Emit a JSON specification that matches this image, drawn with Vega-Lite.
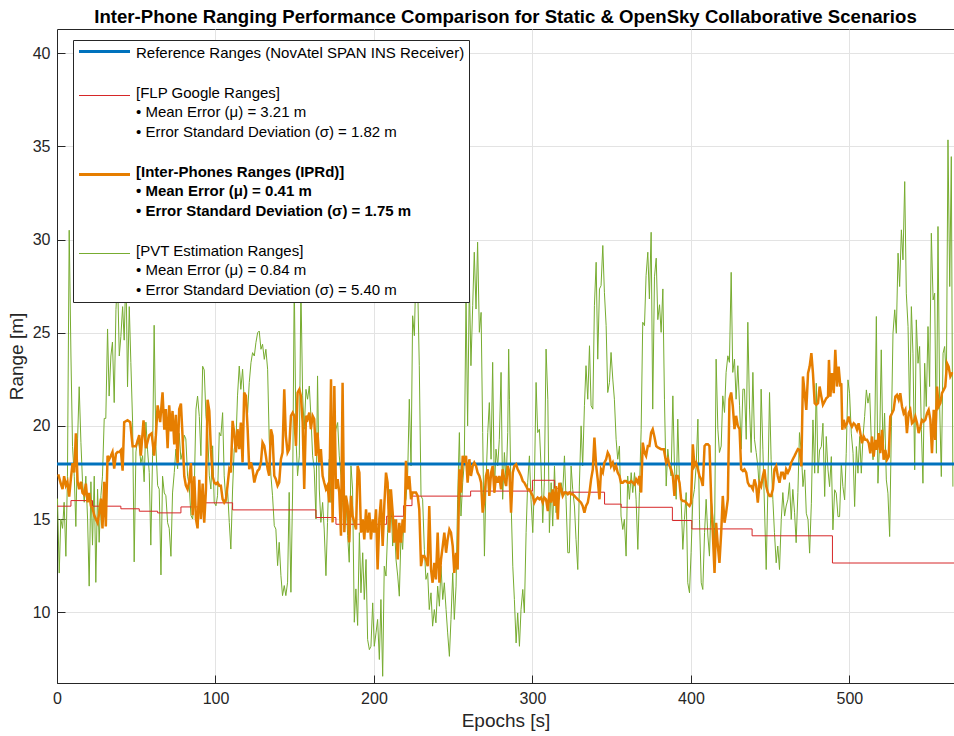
{
"$schema": "https://vega.github.io/schema/vega-lite/v6.json",
"width": 897, "height": 654,
"autosize": {"type": "none"},
"padding": {"left": 57, "top": 29, "right": 0, "bottom": 53},
"background": "white",
"config": {
  "font": "Liberation Sans",
  "view": {"stroke": "#262626", "strokeWidth": 1},
  "axis": {"domainColor": "#262626", "domainWidth": 1, "tickColor": "#262626", "tickSize": -8, "labelPadding": 15, "gridColor": "#e3e3e3", "gridWidth": 1, "labelFont": "Liberation Sans", "labelFontSize": 16, "labelColor": "#262626", "titleFont": "Liberation Sans", "titleFontSize": 19, "titleFontWeight": "normal", "titleColor": "#262626"}
},
"title": {"text": "Inter-Phone Ranging Performance Comparison for Static & OpenSky Collaborative Scenarios", "font": "Liberation Sans", "fontSize": 18.6, "fontWeight": "bold", "color": "black", "anchor": "middle", "offset": 2},
"datasets": {
"ref": [{"e": 0, "v": 17.95}, {"e": 566, "v": 17.95}],
"flp": [{"e":0,"v":15.69},{"e":8.8,"v":15.99},{"e":22.4,"v":15.69},{"e":40.3,"v":15.55},{"e":51.9,"v":15.42},{"e":63.5,"v":15.33},{"e":78.2,"v":15.65},{"e":92.3,"v":15.87},{"e":110.8,"v":15.49},{"e":163.4,"v":15.08},{"e":176,"v":14.72},{"e":208,"v":15.15},{"e":218.7,"v":15.72},{"e":224,"v":16.23},{"e":261,"v":16.5},{"e":300,"v":17.08},{"e":314,"v":16.65},{"e":318.5,"v":16.44},{"e":345.5,"v":15.8},{"e":356,"v":15.63},{"e":388.3,"v":14.92},{"e":400.6,"v":14.47},{"e":438.6,"v":14.1},{"e":489.3,"v":12.64},{"e":566,"v":12.64}],
"ipr": [{"e":0.8,"v":17.4},{"e":2.4,"v":16.9},{"e":3.5,"v":16.6},{"e":4.5,"v":17.3},{"e":5.6,"v":16.8},{"e":6.6,"v":17.0},{"e":7.7,"v":16.2},{"e":8.8,"v":17.2},{"e":9.8,"v":18.0},{"e":10.9,"v":17.5},{"e":11.9,"v":19.6},{"e":13.0,"v":17.0},{"e":14.0,"v":16.6},{"e":15.1,"v":17.0},{"e":16.1,"v":16.4},{"e":17.2,"v":16.3},{"e":18.2,"v":16.9},{"e":19.3,"v":15.9},{"e":20.3,"v":16.4},{"e":21.4,"v":15.7},{"e":22.4,"v":15.6},{"e":23.5,"v":15.2},{"e":24.5,"v":15.0},{"e":25.6,"v":14.8},{"e":26.6,"v":15.3},{"e":27.7,"v":16.1},{"e":28.7,"v":14.5},{"e":29.8,"v":17.0},{"e":30.8,"v":14.6},{"e":31.9,"v":18.4},{"e":32.9,"v":18.2},{"e":34.0,"v":18.4},{"e":35.0,"v":18.6},{"e":36.1,"v":17.7},{"e":37.2,"v":18.5},{"e":38.2,"v":18.6},{"e":39.3,"v":18.6},{"e":40.3,"v":18.7},{"e":41.4,"v":17.6},{"e":42.4,"v":20.2},{"e":44.5,"v":20.3},{"e":46.2,"v":20.2},{"e":47.7,"v":18.9},{"e":49.8,"v":18.9},{"e":51.9,"v":19.5},{"e":52.9,"v":18.4},{"e":54.6,"v":20.3},{"e":56.1,"v":18.8},{"e":58.2,"v":19.5},{"e":59.7,"v":19.6},{"e":61.3,"v":18.4},{"e":62.4,"v":19.5},{"e":63.5,"v":21.1},{"e":65.1,"v":20.2},{"e":66.6,"v":21.8},{"e":67.7,"v":19.8},{"e":68.7,"v":20.9},{"e":69.8,"v":18.8},{"e":70.8,"v":21.1},{"e":71.9,"v":19.7},{"e":72.9,"v":20.8},{"e":74.0,"v":19.0},{"e":75.0,"v":20.6},{"e":76.1,"v":18.0},{"e":77.1,"v":20.9},{"e":78.2,"v":21.2},{"e":79.2,"v":19.5},{"e":80.3,"v":17.3},{"e":81.3,"v":16.8},{"e":82.4,"v":16.6},{"e":83.4,"v":17.0},{"e":84.5,"v":18.0},{"e":85.6,"v":15.2},{"e":86.6,"v":17.3},{"e":87.7,"v":15.0},{"e":88.7,"v":14.5},{"e":89.8,"v":17.1},{"e":90.8,"v":15.0},{"e":91.9,"v":16.9},{"e":92.9,"v":14.8},{"e":94.0,"v":16.6},{"e":95.0,"v":21.4},{"e":96.1,"v":20.8},{"e":97.1,"v":18.75},{"e":98.2,"v":17.3},{"e":99.2,"v":16.96},{"e":100.3,"v":16.88},{"e":101.3,"v":16.96},{"e":102.4,"v":16.79},{"e":103.4,"v":16.79},{"e":104.5,"v":16.07},{"e":105.5,"v":15.89},{"e":106.6,"v":16.07},{"e":107.6,"v":16.79},{"e":108.7,"v":17.68},{"e":109.7,"v":17.5},{"e":110.8,"v":20.27},{"e":111.8,"v":19.64},{"e":112.9,"v":18.57},{"e":113.9,"v":19.82},{"e":115.0,"v":18.75},{"e":116.0,"v":20.18},{"e":117.1,"v":18.04},{"e":118.1,"v":21.79},{"e":119.2,"v":21.61},{"e":120.3,"v":19.82},{"e":121.3,"v":17.68},{"e":122.4,"v":18.04},{"e":123.4,"v":17.68},{"e":124.5,"v":16.96},{"e":125.5,"v":17.32},{"e":126.6,"v":17.59},{"e":127.6,"v":17.68},{"e":128.7,"v":18.04},{"e":129.7,"v":19.11},{"e":130.8,"v":18.93},{"e":131.8,"v":18.39},{"e":132.9,"v":17.68},{"e":133.9,"v":17.32},{"e":135.0,"v":19.82},{"e":136.0,"v":19.46},{"e":137.1,"v":17.32},{"e":138.1,"v":17.14},{"e":139.2,"v":16.79},{"e":140.2,"v":16.96},{"e":141.3,"v":18.21},{"e":142.3,"v":18.57},{"e":143.4,"v":21.96},{"e":144.4,"v":19.46},{"e":145.5,"v":18.57},{"e":146.5,"v":18.75},{"e":147.6,"v":20.54},{"e":148.7,"v":20.71},{"e":149.7,"v":20.54},{"e":150.8,"v":18.93},{"e":151.8,"v":21.79},{"e":152.9,"v":21.96},{"e":153.9,"v":21.61},{"e":155.0,"v":20.18},{"e":156.0,"v":16.61},{"e":157.1,"v":20.54},{"e":158.1,"v":20.36},{"e":159.2,"v":20.71},{"e":160.2,"v":19.82},{"e":161.3,"v":20.54},{"e":162.3,"v":20.36},{"e":163.4,"v":18.39},{"e":164.4,"v":19.64},{"e":165.5,"v":18.04},{"e":166.5,"v":18.75},{"e":167.6,"v":17.32},{"e":168.6,"v":16.96},{"e":169.7,"v":16.61},{"e":170.7,"v":16.79},{"e":171.8,"v":15.89},{"e":172.9,"v":22.5},{"e":173.9,"v":14.82},{"e":175.0,"v":22.14},{"e":176.0,"v":16.61},{"e":177.1,"v":17.14},{"e":178.1,"v":16.43},{"e":179.2,"v":14.11},{"e":180.2,"v":22.32},{"e":181.3,"v":14.29},{"e":182.3,"v":16.25},{"e":183.4,"v":15.71},{"e":184.4,"v":13.75},{"e":185.5,"v":16.25},{"e":186.5,"v":15.18},{"e":187.6,"v":14.82},{"e":188.7,"v":14.44},{"e":189.7,"v":17.85},{"e":190.8,"v":17.49},{"e":191.8,"v":14.27},{"e":192.9,"v":14.98},{"e":193.9,"v":13.91},{"e":195.0,"v":15.52},{"e":196.0,"v":14.27},{"e":197.1,"v":15.34},{"e":198.1,"v":13.91},{"e":199.2,"v":14.98},{"e":200.2,"v":14.27},{"e":201.3,"v":15.52},{"e":202.3,"v":12.29},{"e":203.4,"v":14.98},{"e":204.4,"v":16.06},{"e":205.5,"v":13.55},{"e":206.5,"v":15.7},{"e":207.6,"v":17.49},{"e":208.6,"v":16.95},{"e":209.7,"v":14.27},{"e":210.7,"v":16.59},{"e":211.8,"v":15.34},{"e":212.8,"v":13.73},{"e":213.9,"v":14.98},{"e":215.0,"v":12.83},{"e":216.0,"v":14.8},{"e":217.1,"v":13.73},{"e":218.1,"v":14.98},{"e":219.2,"v":14.27},{"e":220.2,"v":18.12},{"e":221.3,"v":16.59},{"e":222.3,"v":17.31},{"e":223.4,"v":16.06},{"e":224.4,"v":16.42},{"e":225.5,"v":16.42},{"e":226.5,"v":16.42},{"e":227.6,"v":16.24},{"e":228.6,"v":15.52},{"e":229.7,"v":12.47},{"e":230.7,"v":13.01},{"e":231.8,"v":13.01},{"e":232.8,"v":12.83},{"e":233.9,"v":12.47},{"e":234.9,"v":15.7},{"e":236.0,"v":12.29},{"e":237.0,"v":11.58},{"e":238.1,"v":12.65},{"e":239.1,"v":11.76},{"e":240.2,"v":14.27},{"e":241.3,"v":11.58},{"e":242.3,"v":12.83},{"e":243.4,"v":13.55},{"e":244.4,"v":14.27},{"e":245.5,"v":13.19},{"e":246.5,"v":13.91},{"e":247.6,"v":14.44},{"e":248.6,"v":14.27},{"e":249.7,"v":13.55},{"e":250.7,"v":12.11},{"e":251.8,"v":13.19},{"e":252.8,"v":12.29},{"e":253.9,"v":17.67},{"e":254.9,"v":16.42},{"e":256.0,"v":18.39},{"e":257.0,"v":18.03},{"e":258.1,"v":18.39},{"e":259.1,"v":16.95},{"e":260.2,"v":18.21},{"e":261.2,"v":17.31},{"e":262.3,"v":17.85},{"e":263.3,"v":18.03},{"e":264.4,"v":17.85},{"e":265.4,"v":17.49},{"e":266.5,"v":17.31},{"e":267.6,"v":16.95},{"e":268.6,"v":15.34},{"e":269.7,"v":16.06},{"e":270.7,"v":17.31},{"e":271.8,"v":17.67},{"e":272.8,"v":16.24},{"e":273.9,"v":17.49},{"e":274.9,"v":17.85},{"e":276.0,"v":16.42},{"e":277.0,"v":17.31},{"e":278.1,"v":16.95},{"e":279.1,"v":17.31},{"e":280.2,"v":16.59},{"e":281.2,"v":17.67},{"e":282.3,"v":17.13},{"e":283.4,"v":16.77},{"e":284.4,"v":17.85},{"e":285.5,"v":17.49},{"e":286.5,"v":15.34},{"e":287.6,"v":17.49},{"e":288.6,"v":17.85},{"e":289.7,"v":17.94},{"e":290.7,"v":17.67},{"e":291.8,"v":17.49},{"e":292.8,"v":17.31},{"e":293.9,"v":17.04},{"e":294.9,"v":16.95},{"e":296.0,"v":16.77},{"e":297.0,"v":16.59},{"e":298.1,"v":16.59},{"e":299.1,"v":16.42},{"e":300.2,"v":16.24},{"e":301.2,"v":15.88},{"e":302.3,"v":16.06},{"e":303.3,"v":16.15},{"e":304.4,"v":16.06},{"e":305.4,"v":16.15},{"e":306.5,"v":15.88},{"e":307.5,"v":16.15},{"e":308.6,"v":16.06},{"e":309.7,"v":15.43},{"e":310.7,"v":16.42},{"e":311.8,"v":15.88},{"e":312.8,"v":16.59},{"e":313.9,"v":15.7},{"e":314.9,"v":16.77},{"e":316.0,"v":14.98},{"e":317.0,"v":16.95},{"e":318.1,"v":16.59},{"e":319.1,"v":16.24},{"e":320.2,"v":16.42},{"e":321.2,"v":16.42},{"e":322.3,"v":16.33},{"e":323.3,"v":16.42},{"e":324.4,"v":16.33},{"e":325.4,"v":16.33},{"e":326.5,"v":16.24},{"e":327.5,"v":16.15},{"e":328.6,"v":16.06},{"e":329.6,"v":15.97},{"e":330.7,"v":15.88},{"e":331.7,"v":15.7},{"e":332.8,"v":15.34},{"e":333.8,"v":15.7},{"e":334.9,"v":15.88},{"e":336.0,"v":16.42},{"e":337.0,"v":17.13},{"e":338.1,"v":17.67},{"e":339.1,"v":19.37},{"e":340.2,"v":17.85},{"e":341.2,"v":17.13},{"e":342.3,"v":16.06},{"e":343.3,"v":17.67},{"e":344.4,"v":17.49},{"e":345.4,"v":18.03},{"e":346.5,"v":18.21},{"e":347.5,"v":18.57},{"e":348.6,"v":18.39},{"e":349.6,"v":17.85},{"e":350.7,"v":18.03},{"e":351.7,"v":17.67},{"e":352.8,"v":17.85},{"e":353.8,"v":17.49},{"e":354.9,"v":17.31},{"e":355.9,"v":16.95},{"e":357.0,"v":16.95},{"e":358.0,"v":17.04},{"e":359.1,"v":17.04},{"e":360.1,"v":16.95},{"e":361.2,"v":16.95},{"e":362.3,"v":17.04},{"e":363.3,"v":16.95},{"e":364.4,"v":16.86},{"e":365.4,"v":17.13},{"e":366.5,"v":16.95},{"e":367.5,"v":17.31},{"e":368.6,"v":16.42},{"e":369.6,"v":19.1},{"e":370.7,"v":18.57},{"e":371.7,"v":18.39},{"e":372.8,"v":18.92},{"e":373.8,"v":18.92},{"e":374.9,"v":19.64},{"e":375.9,"v":19.82},{"e":377.0,"v":19.4},{"e":378.1,"v":18.92},{"e":379.1,"v":18.84},{"e":381.2,"v":18.75},{"e":382.9,"v":18.75},{"e":384.4,"v":18.03},{"e":385.4,"v":18.21},{"e":386.5,"v":17.85},{"e":387.5,"v":17.67},{"e":388.6,"v":17.31},{"e":389.6,"v":16.24},{"e":390.7,"v":17.31},{"e":391.7,"v":17.31},{"e":392.8,"v":16.95},{"e":393.8,"v":16.06},{"e":394.9,"v":15.97},{"e":395.9,"v":15.97},{"e":397.0,"v":15.88},{"e":398.0,"v":15.79},{"e":399.1,"v":15.7},{"e":400.1,"v":15.88},{"e":401.2,"v":19.01},{"e":402.2,"v":17.85},{"e":403.3,"v":18.03},{"e":404.4,"v":17.67},{"e":405.4,"v":17.31},{"e":406.5,"v":17.13},{"e":407.5,"v":16.77},{"e":408.6,"v":18.92},{"e":409.6,"v":19.01},{"e":410.7,"v":19.01},{"e":411.7,"v":18.92},{"e":412.8,"v":16.06},{"e":413.8,"v":14.27},{"e":414.9,"v":12.11},{"e":415.9,"v":14.8},{"e":417.0,"v":13.55},{"e":418.0,"v":12.65},{"e":419.1,"v":14.27},{"e":420.1,"v":16.24},{"e":421.2,"v":14.8},{"e":422.2,"v":15.34},{"e":423.3,"v":16.06},{"e":424.3,"v":21.43},{"e":425.4,"v":21.79},{"e":426.4,"v":21.08},{"e":427.5,"v":19.82},{"e":428.5,"v":20.54},{"e":429.6,"v":20.0},{"e":430.7,"v":19.82},{"e":431.7,"v":17.67},{"e":432.8,"v":17.58},{"e":433.8,"v":17.67},{"e":434.9,"v":17.49},{"e":435.9,"v":16.95},{"e":437.0,"v":16.77},{"e":438.0,"v":16.77},{"e":439.1,"v":16.59},{"e":440.1,"v":17.13},{"e":441.2,"v":16.77},{"e":442.2,"v":15.88},{"e":443.3,"v":16.95},{"e":444.3,"v":16.77},{"e":445.4,"v":17.31},{"e":446.4,"v":17.67},{"e":447.5,"v":16.77},{"e":448.5,"v":16.42},{"e":449.6,"v":16.24},{"e":450.6,"v":16.24},{"e":451.7,"v":16.59},{"e":452.7,"v":17.67},{"e":453.8,"v":17.85},{"e":454.8,"v":17.31},{"e":455.9,"v":16.95},{"e":457.0,"v":17.49},{"e":458.0,"v":17.49},{"e":459.1,"v":17.13},{"e":460.1,"v":17.67},{"e":461.2,"v":17.49},{"e":462.2,"v":17.67},{"e":463.3,"v":18.03},{"e":464.3,"v":18.21},{"e":465.4,"v":18.39},{"e":466.4,"v":18.57},{"e":467.5,"v":18.75},{"e":468.6,"v":18.71},{"e":469.7,"v":17.82},{"e":470.7,"v":22.65},{"e":471.8,"v":21.75},{"e":472.8,"v":20.86},{"e":473.9,"v":22.83},{"e":474.9,"v":23.18},{"e":476.0,"v":23.9},{"e":477.0,"v":22.83},{"e":478.1,"v":21.22},{"e":479.1,"v":21.13},{"e":480.2,"v":21.22},{"e":481.2,"v":22.11},{"e":482.3,"v":21.57},{"e":483.3,"v":21.13},{"e":484.4,"v":21.31},{"e":485.4,"v":21.48},{"e":486.5,"v":21.57},{"e":487.1,"v":23.54},{"e":488.0,"v":21.57},{"e":489.0,"v":22.83},{"e":490.1,"v":21.75},{"e":491.1,"v":24.08},{"e":492.2,"v":22.11},{"e":493.2,"v":23.18},{"e":494.3,"v":22.11},{"e":494.9,"v":22.29},{"e":495.5,"v":19.79},{"e":496.4,"v":20.32},{"e":497.4,"v":19.96},{"e":498.5,"v":20.14},{"e":499.5,"v":20.5},{"e":500.6,"v":20.14},{"e":501.6,"v":19.96},{"e":502.7,"v":20.14},{"e":503.7,"v":20.05},{"e":504.8,"v":19.79},{"e":505.8,"v":20.14},{"e":506.9,"v":19.61},{"e":507.9,"v":19.07},{"e":509.0,"v":19.43},{"e":510.0,"v":19.25},{"e":511.1,"v":19.25},{"e":512.2,"v":19.07},{"e":513.2,"v":18.53},{"e":514.3,"v":19.43},{"e":515.3,"v":18.35},{"e":516.4,"v":19.25},{"e":517.4,"v":18.71},{"e":518.5,"v":19.61},{"e":519.5,"v":18.53},{"e":520.6,"v":19.79},{"e":521.6,"v":18.18},{"e":522.7,"v":18.71},{"e":523.7,"v":18.18},{"e":524.8,"v":18.35},{"e":525.8,"v":20.5},{"e":526.9,"v":20.68},{"e":527.9,"v":20.86},{"e":529.0,"v":21.57},{"e":530.0,"v":21.66},{"e":531.1,"v":21.4},{"e":532.1,"v":21.75},{"e":533.2,"v":21.04},{"e":534.2,"v":20.68},{"e":535.3,"v":20.86},{"e":536.3,"v":19.61},{"e":537.4,"v":20.68},{"e":538.4,"v":20.86},{"e":539.5,"v":20.14},{"e":540.6,"v":20.23},{"e":541.6,"v":20.5},{"e":542.7,"v":20.14},{"e":543.7,"v":19.61},{"e":544.8,"v":19.96},{"e":545.8,"v":20.32},{"e":546.9,"v":20.23},{"e":547.9,"v":20.32},{"e":549.0,"v":20.68},{"e":550.0,"v":20.86},{"e":551.1,"v":20.32},{"e":552.1,"v":18.53},{"e":553.2,"v":20.86},{"e":554.2,"v":19.25},{"e":555.3,"v":22.11},{"e":556.3,"v":21.04},{"e":557.4,"v":21.22},{"e":558.4,"v":21.75},{"e":559.5,"v":21.93},{"e":560.5,"v":22.11},{"e":561.6,"v":23.36},{"e":562.6,"v":23.18},{"e":563.7,"v":22.65},{"e":564.8,"v":22.83},{"e":565.4,"v":22.83}],
"pvt": [{"e":0.3,"v":16.1},{"e":1.4,"v":12.1},{"e":2.4,"v":15.0},{"e":3.5,"v":14.5},{"e":4.5,"v":15.9},{"e":5.6,"v":13.0},{"e":6.6,"v":17.3},{"e":7.7,"v":30.5},{"e":8.8,"v":23.75},{"e":9.8,"v":18.9},{"e":10.9,"v":17.3},{"e":11.9,"v":14.6},{"e":13.0,"v":19.3},{"e":14.0,"v":22.1},{"e":15.1,"v":19.1},{"e":16.1,"v":17.0},{"e":17.2,"v":15.9},{"e":18.2,"v":17.3},{"e":19.3,"v":15.0},{"e":20.3,"v":11.4},{"e":21.4,"v":17.0},{"e":22.4,"v":13.6},{"e":23.5,"v":17.3},{"e":24.5,"v":11.6},{"e":25.6,"v":16.6},{"e":26.6,"v":13.75},{"e":27.7,"v":16.25},{"e":28.7,"v":17.3},{"e":29.8,"v":20.4},{"e":30.8,"v":20.4},{"e":31.9,"v":25.2},{"e":32.9,"v":21.6},{"e":34.0,"v":23.75},{"e":35.0,"v":24.5},{"e":36.1,"v":21.25},{"e":37.2,"v":26.25},{"e":38.2,"v":28.0},{"e":39.3,"v":23.75},{"e":40.3,"v":24.8},{"e":41.4,"v":26.4},{"e":42.4,"v":24.6},{"e":43.5,"v":28.5},{"e":44.5,"v":22.1},{"e":45.6,"v":26.4},{"e":46.6,"v":23.4},{"e":47.7,"v":20.2},{"e":48.7,"v":12.7},{"e":49.8,"v":18.6},{"e":50.8,"v":19.3},{"e":51.9,"v":18.9},{"e":52.9,"v":18.0},{"e":54.0,"v":18.4},{"e":55.0,"v":17.0},{"e":56.1,"v":20.2},{"e":57.1,"v":18.75},{"e":58.2,"v":17.5},{"e":59.2,"v":13.6},{"e":60.3,"v":18.4},{"e":61.3,"v":25.4},{"e":62.4,"v":18.9},{"e":63.5,"v":16.8},{"e":64.5,"v":16.6},{"e":65.6,"v":12.0},{"e":66.6,"v":17.3},{"e":67.7,"v":16.4},{"e":68.7,"v":16.25},{"e":69.8,"v":14.8},{"e":70.8,"v":14.5},{"e":71.9,"v":13.0},{"e":72.9,"v":16.4},{"e":74.0,"v":17.5},{"e":75.0,"v":18.75},{"e":76.1,"v":17.7},{"e":77.1,"v":19.6},{"e":78.2,"v":18.2},{"e":79.2,"v":18.6},{"e":80.3,"v":19.5},{"e":81.3,"v":19.3},{"e":82.4,"v":17.3},{"e":83.4,"v":16.8},{"e":84.5,"v":15.2},{"e":85.6,"v":15.0},{"e":86.6,"v":16.6},{"e":87.7,"v":20.9},{"e":88.7,"v":21.6},{"e":89.8,"v":20.5},{"e":90.8,"v":18.4},{"e":91.9,"v":23.2},{"e":92.9,"v":23.0},{"e":94.0,"v":20.5},{"e":95.0,"v":19.8},{"e":96.1,"v":17.32},{"e":97.1,"v":16.61},{"e":98.2,"v":18.93},{"e":99.2,"v":15.89},{"e":100.3,"v":15.71},{"e":101.3,"v":16.25},{"e":102.4,"v":19.64},{"e":103.4,"v":19.46},{"e":104.5,"v":20.71},{"e":105.5,"v":17.32},{"e":106.6,"v":15.89},{"e":107.6,"v":16.61},{"e":108.7,"v":14.82},{"e":109.7,"v":13.39},{"e":110.8,"v":16.61},{"e":111.8,"v":18.75},{"e":112.9,"v":19.11},{"e":113.9,"v":21.61},{"e":115.0,"v":23.21},{"e":116.0,"v":21.96},{"e":117.1,"v":23.04},{"e":118.1,"v":21.43},{"e":119.2,"v":21.61},{"e":120.3,"v":20.71},{"e":121.3,"v":22.32},{"e":122.4,"v":23.39},{"e":123.4,"v":23.93},{"e":124.5,"v":23.75},{"e":125.5,"v":24.46},{"e":126.6,"v":25.0},{"e":127.6,"v":25.09},{"e":128.7,"v":24.11},{"e":129.7,"v":24.38},{"e":130.8,"v":23.57},{"e":131.8,"v":24.11},{"e":132.9,"v":23.04},{"e":133.9,"v":19.29},{"e":135.0,"v":17.32},{"e":136.0,"v":16.25},{"e":137.1,"v":14.64},{"e":138.1,"v":14.46},{"e":139.2,"v":12.5},{"e":140.2,"v":13.75},{"e":141.3,"v":11.96},{"e":142.3,"v":10.89},{"e":143.4,"v":11.43},{"e":144.4,"v":10.89},{"e":145.5,"v":11.61},{"e":146.5,"v":16.43},{"e":147.6,"v":11.07},{"e":148.7,"v":16.61},{"e":149.7,"v":27.8},{"e":150.8,"v":19.29},{"e":151.8,"v":17.32},{"e":152.9,"v":18.39},{"e":153.9,"v":27.5},{"e":155.0,"v":21.61},{"e":156.0,"v":19.82},{"e":157.1,"v":21.96},{"e":158.1,"v":21.43},{"e":159.2,"v":22.14},{"e":160.2,"v":20.54},{"e":161.3,"v":18.39},{"e":162.3,"v":17.68},{"e":163.4,"v":15.0},{"e":164.4,"v":22.68},{"e":165.5,"v":16.61},{"e":166.5,"v":14.82},{"e":167.6,"v":15.89},{"e":168.6,"v":14.46},{"e":169.7,"v":11.96},{"e":170.7,"v":14.82},{"e":171.8,"v":18.21},{"e":172.9,"v":15.89},{"e":173.9,"v":17.32},{"e":175.0,"v":19.11},{"e":176.0,"v":19.82},{"e":177.1,"v":20.18},{"e":178.1,"v":18.39},{"e":179.2,"v":17.32},{"e":180.2,"v":15.89},{"e":181.3,"v":14.82},{"e":182.3,"v":16.25},{"e":183.4,"v":14.11},{"e":184.4,"v":12.68},{"e":185.5,"v":17.86},{"e":186.5,"v":16.61},{"e":187.6,"v":9.46},{"e":188.6,"v":11.25},{"e":189.7,"v":9.29},{"e":190.8,"v":14.27},{"e":191.8,"v":11.04},{"e":192.9,"v":13.19},{"e":193.9,"v":10.68},{"e":195.0,"v":12.83},{"e":196.0,"v":8.53},{"e":197.1,"v":7.99},{"e":198.1,"v":8.17},{"e":199.2,"v":10.5},{"e":200.2,"v":8.17},{"e":201.3,"v":8.89},{"e":202.3,"v":9.61},{"e":203.4,"v":7.46},{"e":204.4,"v":10.68},{"e":205.5,"v":6.56},{"e":206.5,"v":12.47},{"e":207.6,"v":11.94},{"e":208.6,"v":14.27},{"e":209.7,"v":16.59},{"e":210.7,"v":16.06},{"e":211.8,"v":13.55},{"e":212.8,"v":14.98},{"e":213.9,"v":12.83},{"e":215.0,"v":11.94},{"e":216.0,"v":10.86},{"e":217.1,"v":14.27},{"e":218.1,"v":13.37},{"e":219.2,"v":15.7},{"e":220.2,"v":16.06},{"e":221.3,"v":17.49},{"e":222.3,"v":21.43},{"e":223.4,"v":17.85},{"e":224.4,"v":25.91},{"e":225.5,"v":24.84},{"e":226.5,"v":28.5},{"e":227.6,"v":27.5},{"e":228.6,"v":23.23},{"e":229.7,"v":16.24},{"e":230.7,"v":16.06},{"e":231.8,"v":13.37},{"e":232.8,"v":11.76},{"e":233.9,"v":12.11},{"e":234.9,"v":10.14},{"e":236.0,"v":11.04},{"e":237.0,"v":9.25},{"e":238.1,"v":10.14},{"e":239.1,"v":9.43},{"e":240.2,"v":11.4},{"e":241.3,"v":10.32},{"e":242.3,"v":12.47},{"e":243.4,"v":10.68},{"e":244.4,"v":11.58},{"e":245.5,"v":10.14},{"e":246.5,"v":8.89},{"e":247.6,"v":7.63},{"e":248.6,"v":9.61},{"e":249.7,"v":12.11},{"e":250.7,"v":9.61},{"e":251.8,"v":11.4},{"e":252.8,"v":16.06},{"e":253.9,"v":19.64},{"e":254.9,"v":15.16},{"e":256.0,"v":16.95},{"e":257.0,"v":18.03},{"e":258.1,"v":26.99},{"e":259.1,"v":20.0},{"e":260.2,"v":27.71},{"e":261.2,"v":23.23},{"e":262.3,"v":26.45},{"e":263.3,"v":29.32},{"e":264.4,"v":26.27},{"e":265.4,"v":29.86},{"e":266.5,"v":25.02},{"e":267.6,"v":26.09},{"e":268.6,"v":19.64},{"e":269.7,"v":13.01},{"e":270.7,"v":16.95},{"e":271.8,"v":19.64},{"e":272.8,"v":21.25},{"e":273.9,"v":18.21},{"e":274.9,"v":23.41},{"e":276.0,"v":16.42},{"e":277.0,"v":18.75},{"e":278.1,"v":17.85},{"e":279.1,"v":19.28},{"e":280.2,"v":22.87},{"e":281.2,"v":16.06},{"e":282.3,"v":18.57},{"e":283.4,"v":16.95},{"e":284.4,"v":19.64},{"e":285.0,"v":24.12},{"e":285.5,"v":21.43},{"e":286.5,"v":16.06},{"e":287.6,"v":12.47},{"e":288.6,"v":10.68},{"e":289.7,"v":8.35},{"e":290.7,"v":9.96},{"e":291.8,"v":8.17},{"e":292.8,"v":10.14},{"e":293.9,"v":11.22},{"e":294.9,"v":9.96},{"e":296.0,"v":14.27},{"e":297.0,"v":16.95},{"e":298.1,"v":18.39},{"e":299.1,"v":16.06},{"e":300.2,"v":14.27},{"e":301.2,"v":16.77},{"e":302.3,"v":22.33},{"e":303.3,"v":19.64},{"e":304.4,"v":19.82},{"e":305.4,"v":17.85},{"e":306.5,"v":14.8},{"e":307.5,"v":16.95},{"e":308.6,"v":24.12},{"e":309.7,"v":21.43},{"e":310.7,"v":14.27},{"e":311.8,"v":16.95},{"e":312.8,"v":14.62},{"e":313.9,"v":17.85},{"e":314.9,"v":15.34},{"e":316.0,"v":16.42},{"e":317.0,"v":16.06},{"e":318.1,"v":16.95},{"e":319.1,"v":16.42},{"e":320.2,"v":18.39},{"e":321.2,"v":16.06},{"e":322.3,"v":13.19},{"e":323.3,"v":13.19},{"e":324.4,"v":17.85},{"e":325.4,"v":16.59},{"e":326.5,"v":15.7},{"e":327.5,"v":13.91},{"e":328.6,"v":12.29},{"e":329.6,"v":16.77},{"e":330.7,"v":20.0},{"e":331.7,"v":17.85},{"e":332.8,"v":21.08},{"e":333.8,"v":23.23},{"e":334.9,"v":21.43},{"e":336.0,"v":24.3},{"e":337.0,"v":21.08},{"e":338.1,"v":20.9},{"e":339.1,"v":26.45},{"e":340.2,"v":28.78},{"e":341.2,"v":23.58},{"e":342.3,"v":27.35},{"e":343.3,"v":27.53},{"e":344.4,"v":29.68},{"e":345.4,"v":27.17},{"e":346.5,"v":25.38},{"e":347.5,"v":21.79},{"e":348.6,"v":22.33},{"e":349.6,"v":23.94},{"e":350.7,"v":22.51},{"e":351.7,"v":21.43},{"e":352.8,"v":19.28},{"e":353.8,"v":18.21},{"e":354.9,"v":18.92},{"e":355.9,"v":15.16},{"e":357.0,"v":14.44},{"e":358.0,"v":14.98},{"e":359.1,"v":13.01},{"e":360.1,"v":17.31},{"e":361.2,"v":16.06},{"e":362.3,"v":17.49},{"e":363.3,"v":16.42},{"e":364.4,"v":17.49},{"e":365.4,"v":16.06},{"e":366.5,"v":13.37},{"e":367.5,"v":16.42},{"e":368.6,"v":19.82},{"e":369.6,"v":25.56},{"e":370.7,"v":25.38},{"e":371.7,"v":28.06},{"e":372.8,"v":29.32},{"e":373.8,"v":26.81},{"e":374.9,"v":30.39},{"e":375.9,"v":20.9},{"e":377.0,"v":28.0},{"e":378.1,"v":29.0},{"e":379.1,"v":25.7},{"e":380.2,"v":26.5},{"e":381.2,"v":25.02},{"e":382.3,"v":27.35},{"e":383.3,"v":21.43},{"e":384.4,"v":16.77},{"e":385.4,"v":18.75},{"e":386.5,"v":17.85},{"e":387.5,"v":17.31},{"e":388.6,"v":21.61},{"e":389.6,"v":17.85},{"e":390.7,"v":16.06},{"e":391.7,"v":20.36},{"e":392.8,"v":16.95},{"e":393.8,"v":16.06},{"e":394.9,"v":13.37},{"e":395.9,"v":14.98},{"e":397.0,"v":16.42},{"e":398.0,"v":11.58},{"e":399.1,"v":11.04},{"e":400.1,"v":13.19},{"e":401.2,"v":16.06},{"e":402.2,"v":16.59},{"e":403.3,"v":17.85},{"e":404.4,"v":20.36},{"e":405.4,"v":14.98},{"e":406.5,"v":11.58},{"e":407.5,"v":11.22},{"e":408.6,"v":14.27},{"e":409.6,"v":16.06},{"e":410.7,"v":14.09},{"e":411.7,"v":13.01},{"e":412.8,"v":16.06},{"e":413.8,"v":15.16},{"e":414.9,"v":13.91},{"e":415.9,"v":23.58},{"e":417.0,"v":19.82},{"e":418.0,"v":18.57},{"e":419.1,"v":18.92},{"e":420.1,"v":21.61},{"e":421.2,"v":20.72},{"e":422.2,"v":22.87},{"e":423.3,"v":23.76},{"e":424.3,"v":23.41},{"e":425.4,"v":28.24},{"e":426.4,"v":22.87},{"e":427.5,"v":23.58},{"e":428.5,"v":21.43},{"e":429.6,"v":23.23},{"e":430.7,"v":21.08},{"e":431.7,"v":18.75},{"e":432.8,"v":21.97},{"e":433.8,"v":21.97},{"e":434.9,"v":19.28},{"e":435.9,"v":25.56},{"e":437.0,"v":20.9},{"e":438.0,"v":18.57},{"e":439.1,"v":22.87},{"e":440.1,"v":19.28},{"e":441.2,"v":18.57},{"e":442.2,"v":17.85},{"e":443.3,"v":16.42},{"e":444.3,"v":21.97},{"e":445.4,"v":18.75},{"e":446.4,"v":15.7},{"e":447.5,"v":12.29},{"e":448.5,"v":16.42},{"e":449.6,"v":21.79},{"e":450.6,"v":18.21},{"e":451.7,"v":16.06},{"e":452.7,"v":14.27},{"e":453.8,"v":12.65},{"e":454.8,"v":13.55},{"e":455.9,"v":12.29},{"e":457.0,"v":14.98},{"e":458.0,"v":16.42},{"e":459.1,"v":15.16},{"e":460.1,"v":15.7},{"e":461.2,"v":16.06},{"e":462.2,"v":16.95},{"e":463.3,"v":14.98},{"e":464.3,"v":16.59},{"e":465.4,"v":15.34},{"e":466.4,"v":13.73},{"e":467.5,"v":16.42},{"e":468.5,"v":19.64},{"e":469.7,"v":18.53},{"e":470.7,"v":16.74},{"e":471.8,"v":17.64},{"e":472.8,"v":15.31},{"e":473.9,"v":14.96},{"e":474.9,"v":13.17},{"e":476.0,"v":15.85},{"e":477.0,"v":20.32},{"e":478.1,"v":17.46},{"e":479.1,"v":22.29},{"e":480.2,"v":17.46},{"e":481.2,"v":18.71},{"e":482.3,"v":18.89},{"e":483.3,"v":20.14},{"e":484.4,"v":16.21},{"e":485.4,"v":19.43},{"e":486.5,"v":17.64},{"e":487.5,"v":16.74},{"e":488.6,"v":18.35},{"e":489.6,"v":14.42},{"e":490.7,"v":16.57},{"e":491.7,"v":16.39},{"e":492.8,"v":15.13},{"e":493.8,"v":15.13},{"e":494.9,"v":18.0},{"e":495.9,"v":16.74},{"e":497.0,"v":16.03},{"e":498.0,"v":18.53},{"e":499.1,"v":22.47},{"e":500.1,"v":21.75},{"e":501.2,"v":19.61},{"e":502.3,"v":18.53},{"e":503.3,"v":15.67},{"e":504.4,"v":18.89},{"e":505.4,"v":17.46},{"e":506.5,"v":19.43},{"e":507.5,"v":17.46},{"e":508.6,"v":19.43},{"e":509.6,"v":20.5},{"e":510.7,"v":21.93},{"e":511.7,"v":21.22},{"e":512.8,"v":21.75},{"e":513.8,"v":19.25},{"e":514.9,"v":18.18},{"e":515.9,"v":19.07},{"e":517.0,"v":25.87},{"e":518.0,"v":16.92},{"e":519.1,"v":19.25},{"e":520.1,"v":24.08},{"e":521.2,"v":18.53},{"e":522.2,"v":20.68},{"e":523.3,"v":17.1},{"e":524.3,"v":16.39},{"e":525.4,"v":14.06},{"e":526.5,"v":19.96},{"e":527.5,"v":24.97},{"e":528.6,"v":26.23},{"e":529.6,"v":24.97},{"e":530.7,"v":29.27},{"e":531.7,"v":27.48},{"e":532.8,"v":30.52},{"e":533.8,"v":28.91},{"e":534.9,"v":33.11},{"e":535.9,"v":27.12},{"e":537.0,"v":25.33},{"e":538.0,"v":20.68},{"e":539.1,"v":26.4},{"e":540.1,"v":23.9},{"e":541.2,"v":17.64},{"e":542.2,"v":25.69},{"e":543.3,"v":23.36},{"e":544.3,"v":24.26},{"e":545.4,"v":19.79},{"e":546.4,"v":16.92},{"e":547.5,"v":23.36},{"e":548.5,"v":21.04},{"e":549.6,"v":25.33},{"e":550.6,"v":22.11},{"e":551.7,"v":30.34},{"e":552.8,"v":26.76},{"e":553.8,"v":27.12},{"e":554.9,"v":18.53},{"e":555.9,"v":30.7},{"e":557.0,"v":20.86},{"e":558.0,"v":17.28},{"e":559.1,"v":23.9},{"e":560.1,"v":24.26},{"e":561.2,"v":22.47},{"e":562.2,"v":35.35},{"e":563.3,"v":27.48},{"e":564.3,"v":34.45},{"e":565.3,"v":16.74}]
},
"encoding": {
  "x": {"field": "e", "type": "quantitative", "scale": {"domain": [0, 566], "nice": false, "zero": false}, "axis": {"values": [0, 100, 200, 300, 400, 500], "title": "Epochs [s]", "titlePadding": 5, "labelFlush": false}},
  "y": {"field": "v", "type": "quantitative", "scale": {"domain": [6.2, 41.3], "nice": false, "zero": false}, "axis": {"values": [10, 15, 20, 25, 30, 35, 40], "title": "Range [m]", "titlePadding": 6}}
},
"layer": [
  {"data": {"name": "pvt"}, "mark": {"type": "line", "strokeWidth": 1, "clip": true},
   "encoding": {"color": {"datum": "pvt", "type": "nominal",
     "scale": {"domain": ["ref", "flp", "ipr", "pvt"], "range": ["#0072BD", "#D62728", "#E67E00", "#77AC30"]},
     "legend": {"title": null, "orient": "none", "legendX": 16, "legendY": 11, "direction": "vertical",
       "fillColor": "white", "strokeColor": "#262626", "padding": 4,
       "symbolType": "stroke", "symbolSize": 2601, "symbolStrokeWidth": 1, "symbolOffset": 20,
       "labelFont": "Liberation Sans", "labelFontSize": 15, "labelColor": "black", "labelLimit": 600, "labelOffset": 24,
       "labelBaseline": "top", "rowPadding": 24,
       "labelExpr": "datum.value == 'ref' ? 'Reference Ranges (NovAtel SPAN INS Receiver)' : datum.value == 'flp' ? ['[FLP Google Ranges]', '• Mean Error (μ) = 3.21 m', '• Error Standard Deviation (σ) = 1.82 m'] : datum.value == 'ipr' ? ['[Inter-Phones Ranges (IPRd)]', '• Mean Error (μ) = 0.41 m', '• Error Standard Deviation (σ) = 1.75 m'] : ['[PVT Estimation Ranges]', '• Mean Error (μ) = 0.84 m', '• Error Standard Deviation (σ) = 5.40 m']",
       "encode": {
         "symbols": {"update": {"stroke": {"signal": "datum.value == 'ref' ? '#0072BD' : datum.value == 'flp' ? '#D62728' : datum.value == 'ipr' ? '#E67E00' : '#77AC30'"}, "strokeWidth": {"signal": "datum.value == 'ref' || datum.value == 'ipr' ? 3 : 1.2"}}},
         "labels": {"update": {"fontWeight": {"signal": "datum.value == 'ipr' ? 'bold' : 'normal'"}, "lineHeight": {"value": 19.5}, "dy": {"signal": "datum.value == 'ref' ? -6 : -10"}}}
       }
     }}}},
  {"data": {"name": "flp"}, "mark": {"type": "line", "strokeWidth": 1, "interpolate": "step-after", "clip": true},
   "encoding": {"color": {"datum": "flp", "type": "nominal"}}},
  {"data": {"name": "ref"}, "mark": {"type": "line", "strokeWidth": 3, "clip": true},
   "encoding": {"color": {"datum": "ref", "type": "nominal"}}},
  {"data": {"name": "ipr"}, "mark": {"type": "line", "strokeWidth": 2.5, "clip": true},
   "encoding": {"color": {"datum": "ipr", "type": "nominal"}}}
]
}
